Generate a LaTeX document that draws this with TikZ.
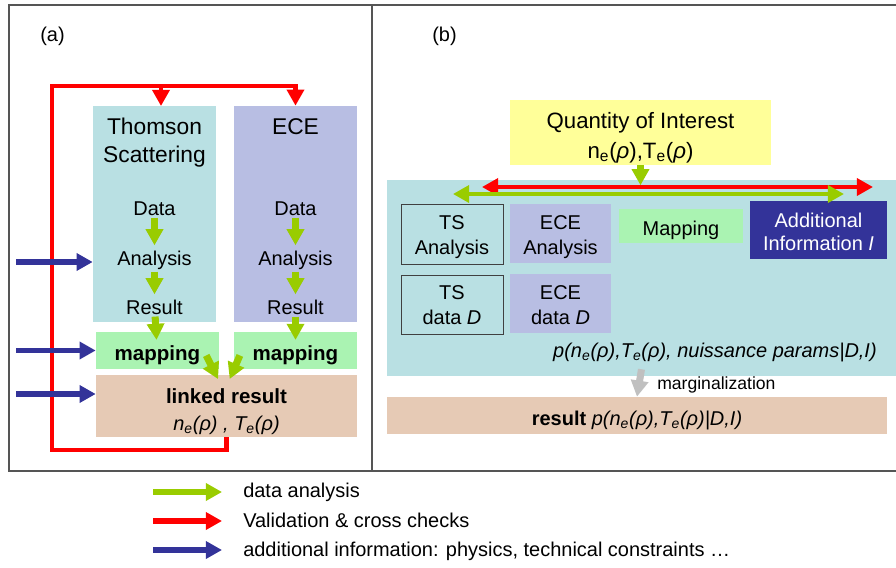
\documentclass[tikz,border=0pt]{standalone}
\usepackage{fontspec}
\setmainfont{Liberation Sans}
\usetikzlibrary{arrows.meta}
\definecolor{tsblue}{RGB}{185,224,227}
\definecolor{eceblue}{RGB}{184,190,227}
\definecolor{mapgreen}{RGB}{170,243,178}
\definecolor{linkbrown}{RGB}{230,202,181}
\definecolor{qoiyellow}{RGB}{255,255,153}
\definecolor{infonavy}{RGB}{51,51,153}
\definecolor{arrgreen}{RGB}{153,204,0}
\definecolor{arrgray}{RGB}{192,192,192}
\definecolor{framegray}{RGB}{85,85,85}

\begin{document}
\begin{tikzpicture}[x=0.025cm, y=-0.025cm,
	every node/.style={font=\fontsize{14.2}{17.7}\selectfont, inner sep=0pt},
	>={Triangle[length=11.5pt,width=12pt]},
	boxsize/.style 2 args={minimum width=#1*0.025cm, minimum height=#2*0.025cm},
	greenarr/.style={->, arrgreen, line width=5pt, shorten <=1.5pt, shorten >=3.5pt},
	redarr/.style={->, red, line width=3.5pt},
	bluearr/.style={->, infonavy, line width=4pt},
	dblarr/.style={<->, line width=3.5pt},
	title/.style={font=\fontsize{16.2}{19.3}\selectfont, align=center}]
	\useasboundingbox (0,0) rectangle (896,567);
	\draw[framegray, line width=0.8pt] (896,5) -- (9,5) -- (9,471) -- (896,471);
	\draw[framegray, line width=0.8pt] (372,5) -- (372,471);
	\node[anchor=base west, font=\fontsize{14.2}{17}\selectfont] (laba) at (40,41) {(a)};
	\node[anchor=base west, font=\fontsize{14.2}{17}\selectfont] (labb) at (432,41) {(b)};

	\node[fill=tsblue, boxsize={123}{216}] (ts) at (154.5,214) {};
	\node[fill=eceblue, boxsize={123}{216}] (ece) at (295.5,214) {};
	\node[fill=mapgreen, boxsize={123}{37}] (tsmap) at (157.5,350.5) {};
	\node[fill=mapgreen, boxsize={123}{37}] (ecemap) at (295.5,350.5) {};
	\node[fill=linkbrown, boxsize={261}{62}] (linked) at (226.5,406) {};
	\node[anchor=base, title] (tstitle) at (154.5,162) {Thomson\\Scattering};
	\node[anchor=base, title] (ecetitle) at (295.5,134) {ECE};
	\foreach \col/\x/\mx in {ts/154.5/157.5, ece/295.5/295.5} {
		\node[anchor=base] (\col-data) at (\x,215) {Data};
		\node[anchor=base] (\col-ana) at (\x,265) {Analysis};
		\node[anchor=base] (\col-res) at (\x,314) {Result};
		\node[anchor=base, font=\fontsize{14.6}{17.7}\selectfont\bfseries] (\col-maptext) at (\mx,360) {mapping};
		\draw[greenarr] (\col-data) -- (\col-ana);
		\draw[greenarr] (\col-ana) -- (\col-res);
		\draw[greenarr] (\col-res) -- (\col-maptext);
	}
	\node[anchor=base, font=\fontsize{14.6}{17.7}\selectfont\bfseries] (linkedtext) at (226.5,403) {linked result};
	\node[anchor=base] (linkedqty) at (226.5,430) {\textit{n\textsubscript{e}(ρ) , T\textsubscript{e}(ρ)}};
	\draw[greenarr] (tsmap.east) ++(-14,3) -- ++(15,30);
	\draw[greenarr] (ecemap.west) ++(7,3) -- ++(-13,30);

	\coordinate (loopbot) at (52,450);
	\coordinate (looptop) at (52,86);
	\coordinate (tsin) at (161,106);
	\draw[redarr] (linked.south) |- (loopbot) -- (looptop) -| (ece.north);
	\draw[redarr] (tsin |- looptop) -- (tsin);
	\foreach \y/\target in {262/ts, 350.5/tsmap, 394/linked} {
		\coordinate (src-\target) at (16,\y);
		\draw[bluearr] (src-\target) -- (src-\target -| \target.west);
	}

	\node[fill=qoiyellow, boxsize={261}{65}] (qoi) at (640.5,132.5) {};
	\node[anchor=base, font=\fontsize{15.8}{21.3}\selectfont, align=center] (qoitext) at (640.5,158) {Quantity of Interest\\n\textsubscript{e}(\textit{ρ}),T\textsubscript{e}(\textit{ρ})};
	\node[fill=tsblue, boxsize={509}{196}] (post) at (641.5,278) {};
	\node[draw=black!75, line width=0.7pt, boxsize={102}{60}] (tsana) at (452,234) {};
	\node[fill=eceblue, boxsize={101}{59}] (eceana) at (560.5,233.5) {};
	\node[fill=mapgreen, boxsize={124}{34}] (mapping) at (681,226) {};
	\node[fill=infonavy, boxsize={137}{58}] (addinfo) at (818.5,230) {};
	\node[draw=black!75, line width=0.7pt, boxsize={102}{59}] (tsdat) at (452,304.5) {};
	\node[fill=eceblue, boxsize={101}{59}] (ecedat) at (560.5,303.5) {};
	\node[anchor=base, align=center] (tsanatext) at (452,254) {TS\\Analysis};
	\node[anchor=base, align=center] (eceanatext) at (560.5,254) {ECE\\Analysis};
	\node[anchor=base] (maptext) at (681,235) {Mapping};
	\node[anchor=base, align=center, text=white, font=\fontsize{14.2}{16.3}\selectfont] (addtext) at (818.5,250) {Additional\\Information \textit{I}};
	\node[anchor=base, align=center] (tsdattext) at (452,324) {TS\\data \textit{D}};
	\node[anchor=base, align=center] (ecedattext) at (560.5,324) {ECE\\data \textit{D}};
	\node[anchor=base east] (posttext) at (877,357) {\textit{p(n\textsubscript{e}(ρ),T\textsubscript{e}(ρ), nuissance params|D,I)}};

	\coordinate (redl) at (482,187);
	\coordinate (redr) at (873,187);
	\coordinate (grnl) at (453,194);
	\coordinate (grnr) at (844,194);
	\draw[dblarr, red] (redl) -- (redr);
	\draw[dblarr, arrgreen] (grnl) -- (grnr);
	\draw[->, arrgreen, line width=5pt] (qoi.south) -- ++(0,20);

	\node[fill=linkbrown, boxsize={500}{37}] (result) at (637,415.5) {};
	\node[anchor=base] (resulttext) at (637,425) {\textbf{result} \textit{p(n\textsubscript{e}(ρ),T\textsubscript{e}(ρ)|D,I)}};
	\draw[->, arrgray, line width=5pt] (post.south) ++(0,-7) -- (result.north);
	\node[anchor=base west, font=\fontsize{12.5}{15}\selectfont] (margtext) at (657,389) {marginalization};

	\coordinate (leg1) at (153,492);
	\coordinate (leg2) at (153,521);
	\coordinate (leg3) at (153,550);
	\draw[->, arrgreen, line width=4.3pt] (leg1) -- ++(69,0);
	\draw[->, red, line width=4.3pt] (leg2) -- ++(69,0);
	\draw[->, infonavy, line width=4.3pt] (leg3) -- ++(69,0);
	\node[anchor=base west] (legtext1) at (243,497) {data analysis};
	\node[anchor=base west] (legtext2) at (243,527) {Validation \& cross checks};
	\node[anchor=base west] (legtext3) at (243,556) {additional information: physics, technical constraints …};
\end{tikzpicture}
\end{document}
